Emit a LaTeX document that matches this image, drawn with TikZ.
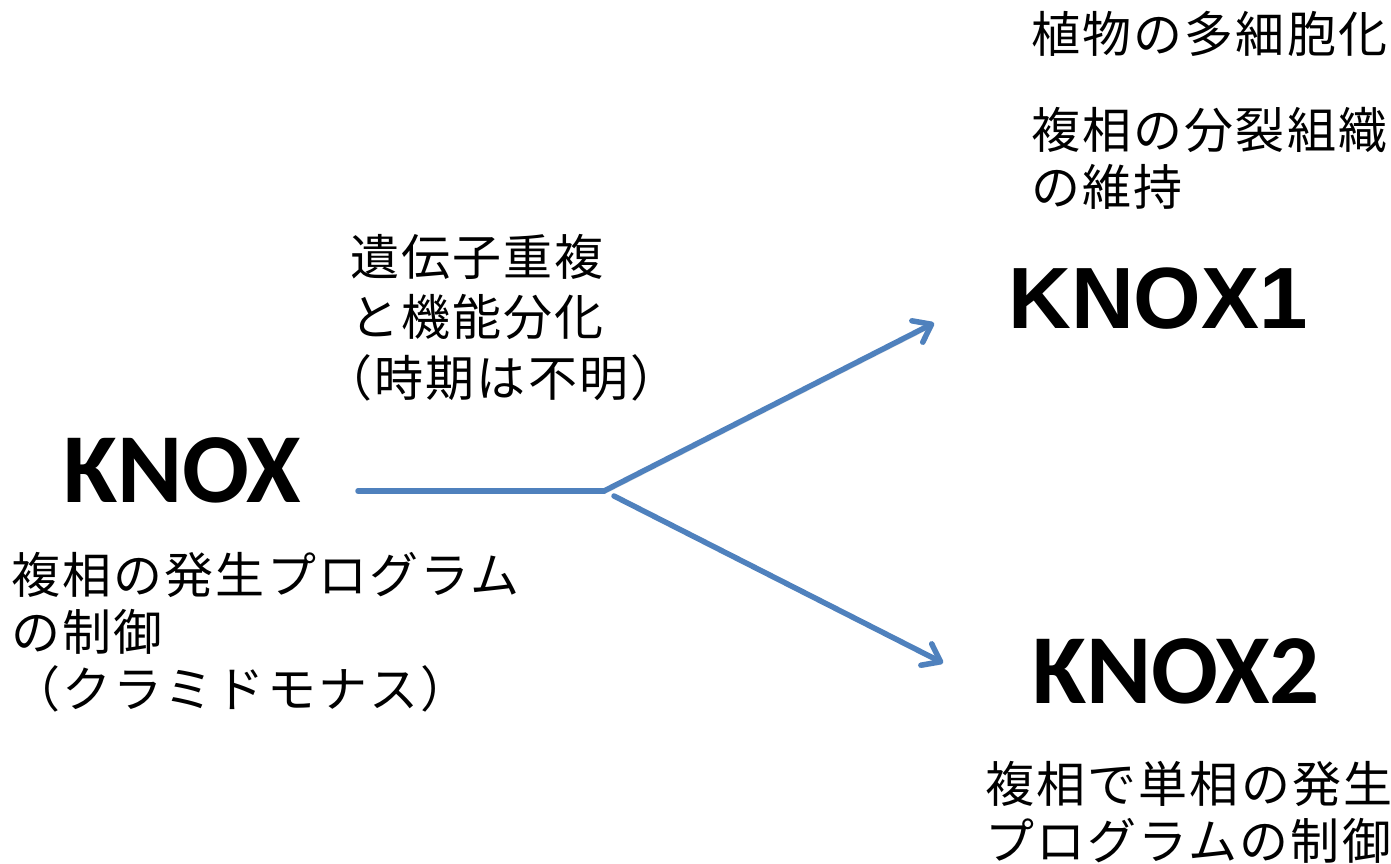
\documentclass[tikz,border=0pt]{standalone}
\usepackage{fontspec}
\usetikzlibrary{arrows.meta}
\newfontfamily\jpfont{Noto Sans CJK JP}[LetterSpace=4.5]
\newfontfamily\calfont{Carlito}
\newfontfamily\arialfont{Liberation Sans}
\definecolor{arrowblue}{HTML}{4F81BD}
\begin{document}
\begin{tikzpicture}[x=1pt,y=-1pt,
  jp/.style={inner sep=0pt, anchor=base west, align=left, font=\jpfont\fontsize{49}{57}\selectfont},
  jpwide/.style={jp, font=\jpfont\fontsize{49}{60.5}\selectfont},
  gene/.style={inner sep=0pt, anchor=base west, font=\calfont\bfseries\fontsize{99}{110}\selectfont},
  gene1/.style={inner sep=0pt, anchor=base west, font=\arialfont\bfseries\fontsize{87}{100}\selectfont},
  flow/.style={draw=arrowblue, line width=5.5pt, line cap=round, line join=round,
    preaction={draw=black!12, transform canvas={shift={(1.5pt,-2.5pt)}}}},
  arr/.style={flow, -{Straight Barb[length=16pt,width=24pt,round]}}
]
\useasboundingbox[fill=white] (0,0) rectangle (1391,864);

% genes
\node[gene]  (knox)  at (63,502)   {KNOX};
\node[gene1] (knox1) at (1008,328) {KNOX1};
\node[gene]  (knox2) at (1032,703) {KNOX2};

% texts (anchor: baseline of the last line)
\node[jp] (t1) at (1031,53) {植物の多細胞化};
\node[jp] (t2) at (1031,205) {複相の分裂組織\\の維持};
\node[jpwide] (mid) at (350,396) {遺伝子重複\\と機能分化\\\hspace*{-0.55em}（時期は不明）};
\node[jp] (left) at (11,707) {複相の発生プログラム\\の制御\\（クラミドモナス）};
\node[jp] (right) at (985,859) {複相で単相の発生\\プログラムの制御};

% connectors
\coordinate (s)  at (358,491);
\coordinate (j)  at (604,491);
\coordinate (j2) at (614,496);
\coordinate (e1) at (934,323);
\coordinate (e2) at (943,663);
\draw[flow] (s) -- (j);
\draw[arr] (j) -- (e1);
\draw[arr] (j2) -- (e2);
\end{tikzpicture}
\end{document}
